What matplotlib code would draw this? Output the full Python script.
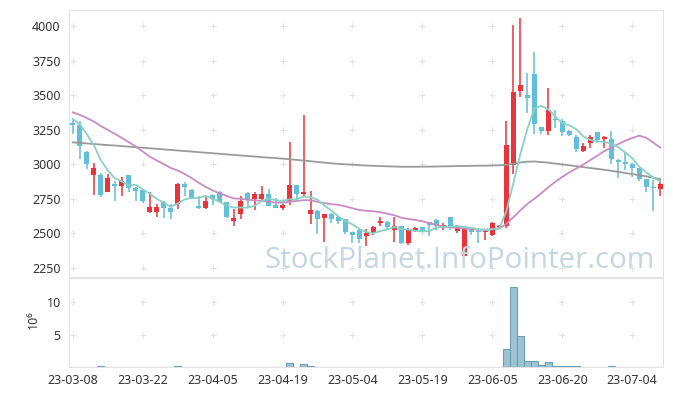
import matplotlib
matplotlib.use('Agg')
import matplotlib.pyplot as plt
import numpy as np
import pandas as pd

# ---------------- data ----------------
opens = [3300, 3285, 3090, 2925, 2925, 2795, 2850, 2840, 2920, 2830,
         2815, 2650, 2650, 2725, 2684, 2713, 2855, 2814, 2700, 2679,
         2775, 2800, 2723, 2592, 2636, 2790, 2747, 2747, 2783, 2705,
         2686, 2728, 2850, 2787, 2642, 2662, 2607, 2640, 2614, 2603,
         2510, 2525, 2477, 2498, 2572, 2578, 2525, 2549, 2429, 2525,
         2542, 2578, 2597, 2537, 2614, 2513, 2338, 2520, 2518, 2508,
         2484, 2542, 2549, 2991, 3532, 3499, 3653, 3267, 3243, 3330,
         3313, 3241, 3200, 3098, 3156, 3233, 3181, 3181, 3031, 3017,
         3002, 2971, 2891, 2835, 2817]
highs = [3325, 3310, 3092, 3005, 2935, 2930, 2875, 2905, 2925, 2835,
         2820, 2800, 2715, 2730, 2711, 2860, 2870, 2820, 2771, 2763,
         2780, 2805, 2728, 2677, 2766, 2795, 2800, 2840, 2819, 2756,
         2708, 3159, 2852, 3355, 2808, 2665, 2640, 2645, 2620, 2605,
         2512, 2528, 2530, 2555, 2614, 2585, 2614, 2552, 2540, 2548,
         2545, 2580, 2600, 2575, 2616, 2560, 2545, 2525, 2520, 2522,
         2580, 2560, 3315, 4007, 4055, 3663, 3810, 3270, 3549, 3393,
         3330, 3245, 3210, 3156, 3210, 3235, 3205, 3243, 3035, 3091,
         3005, 2975, 2895, 2886, 2886]
lows = [3220, 3035, 2965, 2780, 2760, 2795, 2730, 2770, 2800, 2730,
        2720, 2645, 2614, 2612, 2606, 2677, 2766, 2745, 2675, 2677,
        2703, 2720, 2610, 2554, 2604, 2682, 2670, 2740, 2695, 2680,
        2670, 2706, 2745, 2768, 2570, 2494, 2438, 2573, 2568, 2494,
        2429, 2429, 2409, 2490, 2549, 2530, 2440, 2420, 2414, 2510,
        2510, 2477, 2520, 2520, 2520, 2500, 2338, 2490, 2430, 2450,
        2480, 2535, 2540, 2928, 3484, 3373, 3219, 3217, 3212, 3260,
        3207, 3205, 3091, 3090, 3120, 3152, 3118, 3000, 2899, 2959,
        2905, 2880, 2795, 2662, 2766]
closes = [3280, 3130, 3000, 2970, 2780, 2900, 2845, 2880, 2825, 2805,
          2735, 2690, 2693, 2680, 2657, 2857, 2831, 2751, 2679, 2735,
          2751, 2723, 2614, 2607, 2735, 2747, 2785, 2785, 2700, 2686,
          2703, 2850, 2786, 2801, 2670, 2605, 2636, 2604, 2591, 2507,
          2484, 2460, 2501, 2548, 2585, 2542, 2549, 2429, 2528, 2540,
          2518, 2563, 2549, 2561, 2542, 2545, 2532, 2512, 2510, 2518,
          2573, 2554, 3139, 3523, 3571, 3482, 3293, 3243, 3392, 3318,
          3236, 3212, 3108, 3132, 3193, 3176, 3200, 3036, 3012, 2998,
          2971, 2892, 2831, 2826, 2858]
# closes before the visible window (estimated from where the averages start)
prev_closes = [3480, 3470, 3460, 3440, 3450, 3430, 3460, 3440, 3450, 3440,
               3440, 3250, 3200, 3220, 3230, 3330, 3350, 3360, 3320]
# long moving average (grey line)
ma_long = [3158, 3154, 3150, 3146, 3142, 3138, 3135, 3131, 3127, 3123,
           3119, 3115, 3111, 3107, 3103, 3099, 3095, 3091, 3087, 3083,
           3079, 3075, 3071, 3067, 3063, 3059, 3055, 3051, 3047, 3044,
           3040, 3036, 3031, 3026, 3021, 3016, 3011, 3006, 3002, 2999,
           2996, 2993, 2990, 2988, 2986, 2984, 2983, 2981, 2981, 2981,
           2982, 2982, 2983, 2984, 2985, 2986, 2987, 2988, 2989, 2989,
           2990, 2992, 2995, 3003, 3012, 3018, 3019, 3015, 3011, 3004,
           2998, 2992, 2985, 2979, 2972, 2966, 2959, 2952, 2944, 2936,
           2928, 2920, 2912, 2902, 2891]
# volume in millions
volumes = [0.03, 0.03, 0.03, 0.03, 0.12, 0.03, 0.03, 0.03, 0.03, 0.03,
           0.03, 0.03, 0.03, 0.03, 0.03, 0.12, 0.03, 0.03, 0.03, 0.03,
           0.03, 0.03, 0.03, 0.03, 0.03, 0.03, 0.03, 0.03, 0.03, 0.03,
           0.03, 0.55, 0.03, 0.42, 0.12, 0.03, 0.03, 0.03, 0.03, 0.03,
           0.03, 0.03, 0.03, 0.03, 0.03, 0.03, 0.03, 0.03, 0.03, 0.03,
           0.03, 0.03, 0.03, 0.03, 0.03, 0.03, 0.03, 0.03, 0.03, 0.03,
           0.03, 0.03, 2.7, 12.3, 4.8, 0.85, 1.0, 0.3, 0.7, 0.12,
           0.12, 0.12, 0.12, 0.03, 0.03, 0.03, 0.03, 0.12, 0.03, 0.03,
           0.03, 0.03, 0.03, 0.03, 0.03]
tick_labels = ['23-03-08', '23-03-22', '23-04-05', '23-04-19', '23-05-04',
               '23-05-19', '23-06-05', '23-06-20', '23-07-04']
price_ticks = [2250, 2500, 2750, 3000, 3250, 3500, 3750, 4000]
vol_ticks = [5, 10]

# ---------------- style ----------------
UP = '#e8343b'
DOWN = '#62bfd8'
MA5_C = '#8ad0c4'
MA20_C = '#c98cc2'
MA120_C = '#9a9a9a'
GRID_C = '#e2e2e2'
SPINE_C = '#e3e3e3'
TXT_C = '#333333'
FONT = ['Noto Sans', 'DejaVu Sans']
plt.rcParams['font.family'] = FONT

W, H = 673, 396
fig = plt.figure(figsize=(W / 100, H / 100), dpi=100)
L, R = 69, 663
ax = fig.add_axes([L / W, 1 - 277 / H, (R - L) / W, 267 / H])
axv = fig.add_axes([L / W, 1 - 367 / H, (R - L) / W, 89 / H], sharex=ax)

n = len(closes)
x = np.arange(n)
o = np.array(opens, float)
h = np.array(highs, float)
l = np.array(lows, float)
c = np.array(closes, float)
up = c > o
cols = np.where(up, UP, DOWN)

# candles
ax.vlines(x, l, h, colors=cols, linewidth=1.1, zorder=3)
body = np.maximum(np.abs(c - o), 8)
ax.bar(x, body, bottom=np.minimum(o, c), width=0.72, color=cols,
       linewidth=0, zorder=4)

# moving averages
full = pd.Series(prev_closes + closes, dtype=float)
k = len(prev_closes)
ma5 = full.rolling(5).mean().iloc[k:].to_numpy()
ma20 = full.rolling(20).mean().iloc[k:].to_numpy()
ax.plot(x, ma_long, color=MA120_C, lw=1.3, zorder=5)
ax.plot(x, ma20, color=MA20_C, lw=1.3, zorder=5)
ax.plot(x, ma5, color=MA5_C, lw=1.3, zorder=5)

# grid crosses
tick_pos = np.arange(0, 10 * len(tick_labels), 10)
gx, gy = np.meshgrid(tick_pos, price_ticks)
ax.scatter(gx.ravel(), gy.ravel(), marker='+', s=14, color=GRID_C,
           linewidths=0.8, zorder=1)
gx2, gy2 = np.meshgrid(tick_pos, vol_ticks)
axv.scatter(gx2.ravel(), gy2.ravel(), marker='+', s=14, color=GRID_C,
            linewidths=0.8, zorder=1)

ax.set_xlim(-0.53, 84.4)
ax.set_ylim(2183, 4116)
ax.set_yticks(price_ticks)
ax.tick_params(axis='y', length=0, pad=6, labelsize=9, labelcolor=TXT_C)
ax.tick_params(axis='x', length=0, labelbottom=False)

# volume
axv.bar(x, volumes, width=1.0, color='#9dc3d3', edgecolor='#6c9fb4',
        linewidth=0.8, zorder=3)
axv.set_ylim(0, 13.7)
axv.set_yticks(vol_ticks)
axv.set_xticks(tick_pos)
axv.set_xticklabels(tick_labels)
axv.tick_params(axis='y', length=0, pad=6, labelsize=9, labelcolor=TXT_C)
axv.tick_params(axis='x', length=0, pad=5, labelsize=9, labelcolor=TXT_C)

for a in (ax, axv):
    for s in a.spines.values():
        s.set_color(SPINE_C)
        s.set_linewidth(0.8)

fig.text(33 / W, 1 - 320 / H, '10⁶', rotation=90, ha='center', va='center',
         fontsize=9, color=TXT_C, family=FONT)

# watermark
wm = fig.text(655 / W, 1 - 268 / H, 'StockPlanet.InfoPointer.com',
              ha='right', va='baseline', fontsize=24, color='#c3d6e2',
              family=['Open Sans', 'DejaVu Sans'], zorder=0)
fig.canvas.draw()
wpx = wm.get_window_extent().width
wm.set_fontsize(24 * 393 / wpx)

fig.savefig('out.png', dpi=100)
